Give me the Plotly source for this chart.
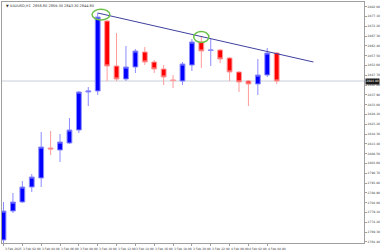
import plotly.graph_objects as go

# ---- data ----
time_labels = ["3 Feb 2025", "3 Feb 02:00", "3 Feb 04:00", "3 Feb 06:00", "3 Feb 08:00",
               "3 Feb 10:00", "3 Feb 12:00", "3 Feb 14:00", "3 Feb 16:00", "3 Feb 18:00",
               "3 Feb 20:00", "3 Feb 22:00", "4 Feb 00:00", "4 Feb 02:00", "4 Feb 04:00"]
opens  = [2765.3, 2779.8, 2784.3, 2791.8, 2796.3, 2811.3, 2810.3, 2813.8, 2820.3, 2839.3,
          2839.8, 2874.8, 2852.3, 2845.8, 2851.8, 2859.3, 2854.3, 2850.8, 2845.3, 2844.8,
          2852.8, 2864.3, 2860.1, 2860.3, 2856.3, 2849.3, 2844.8, 2843.3, 2847.8, 2858.8]
highs  = [2784.3, 2788.8, 2794.8, 2798.3, 2819.3, 2819.8, 2818.3, 2826.3, 2839.8, 2841.8,
          2878.8, 2875.3, 2868.8, 2862.3, 2860.8, 2861.8, 2855.3, 2852.8, 2847.8, 2854.3,
          2865.8, 2867.3, 2866.3, 2860.8, 2856.8, 2849.8, 2845.3, 2855.8, 2861.3, 2859.3]
lows   = [2762.3, 2778.8, 2783.8, 2789.3, 2791.8, 2807.8, 2804.3, 2813.3, 2818.8, 2832.3,
          2837.8, 2844.8, 2844.8, 2844.8, 2848.8, 2852.8, 2848.8, 2842.8, 2841.3, 2842.8,
          2849.8, 2851.3, 2852.3, 2853.8, 2844.8, 2839.3, 2832.3, 2837.8, 2846.8, 2843.3]
closes = [2779.8, 2784.3, 2791.8, 2796.8, 2811.8, 2810.8, 2814.3, 2820.3, 2839.3, 2839.8,
          2876.8, 2852.3, 2845.8, 2851.8, 2859.8, 2854.3, 2850.8, 2846.8, 2845.1, 2853.3,
          2864.3, 2859.8, 2860.3, 2855.8, 2849.3, 2844.3, 2843.3, 2847.8, 2858.8, 2844.8]
price_ticks = [2882.00, 2877.10, 2872.20, 2867.30, 2862.40, 2857.50, 2852.60, 2847.70,
               2842.80, 2837.90, 2833.00, 2828.10, 2823.20, 2818.30, 2813.40, 2808.50,
               2803.60, 2798.70, 2793.80, 2788.90, 2784.00, 2779.10, 2774.20, 2769.30, 2764.40]
trend_x = [10.0, 32.9]
trend_y = [2878.8, 2854.3]
marked_bars = [10, 21]

idx = list(range(len(opens)))
label_pos = idx[::2]

fig = go.Figure()
fig.add_trace(go.Candlestick(
    x=idx, open=opens, high=highs, low=lows, close=closes,
    increasing=dict(fillcolor="#0000ff", line=dict(color="#8c8cff", width=1)),
    decreasing=dict(fillcolor="#ff0000", line=dict(color="#ff9a9a", width=1)),
    whiskerwidth=0, showlegend=False, hoverinfo="skip"))

fig.add_trace(go.Scatter(x=trend_x, y=trend_y, mode="lines",
                         line=dict(color="#4040a0", width=1), showlegend=False, hoverinfo="skip"))

# current price line
last = closes[-1]
fig.add_shape(type="line", xref="paper", x0=0, x1=1, yref="y", y0=last, y1=last,
              line=dict(color="#c8d0d8", width=1), layer="below")

# green ellipses around marked highs
for k, b in enumerate(marked_bars):
    cx = b + (0.35 if k == 0 else 0.0)
    cy = highs[b] + (-0.8 if k == 0 else -0.5)
    rx = 0.95 if k == 0 else 0.8
    ry = 2.7
    fig.add_shape(type="circle", xref="x", yref="y", x0=cx - rx, x1=cx + rx,
                  y0=cy - ry, y1=cy + ry, line=dict(color="#6cc04a", width=1.5))

# price tag
fig.add_annotation(xref="paper", x=1.0, xanchor="left", yref="y", y=last,
                   text="%.2f" % last, showarrow=False, bgcolor="#1a1a1a",
                   font=dict(size=3, color="white", family="DejaVu Sans"),
                   borderpad=0.3, xshift=1)

# header text
fig.add_annotation(xref="paper", yref="paper", x=0.005, y=1.0, xanchor="left", yanchor="top",
                   text="▼ XAUUSD,H1  %.2f %.2f %.2f %.2f" % (opens[-1], highs[-1], lows[-1], closes[-1]),
                   showarrow=False, font=dict(size=3.5, color="#303030", family="DejaVu Sans"))

# time labels (left-aligned at their tick, as in the terminal)
for p, t in zip(label_pos, time_labels):
    fig.add_annotation(xref="x", yref="paper", x=p, y=0, xanchor="left", yanchor="top",
                       text=t, showarrow=False, xshift=-1, yshift=-1.5,
                       font=dict(size=3, color="#404040", family="DejaVu Sans"))

fig.update_layout(
    width=381, height=250,
    margin=dict(l=1, r=13, t=2, b=7),
    paper_bgcolor="white", plot_bgcolor="white",
    boxgap=0.27,
    xaxis=dict(range=[-0.16, 38.27], tickmode="array", tickvals=label_pos,
               ticktext=[""] * len(label_pos),
               showgrid=False, zeroline=False, showline=True, linecolor="#a0a0a0", linewidth=1,
               mirror=True, ticks="outside", ticklen=2, tickcolor="#a0a0a0",
               rangeslider=dict(visible=False)),
    yaxis=dict(range=[2763.8, 2884.3], side="right", tickmode="array", tickvals=price_ticks,
               ticktext=["%.2f" % v for v in price_ticks], showgrid=False, zeroline=False,
               showline=True, linecolor="#a0a0a0", linewidth=1, mirror=True,
               ticks="outside", ticklen=2, tickcolor="#a0a0a0",
               tickfont=dict(size=3, color="#404040", family="DejaVu Sans"), ticklabelstandoff=0),
)

fig.write_html("out.html")
